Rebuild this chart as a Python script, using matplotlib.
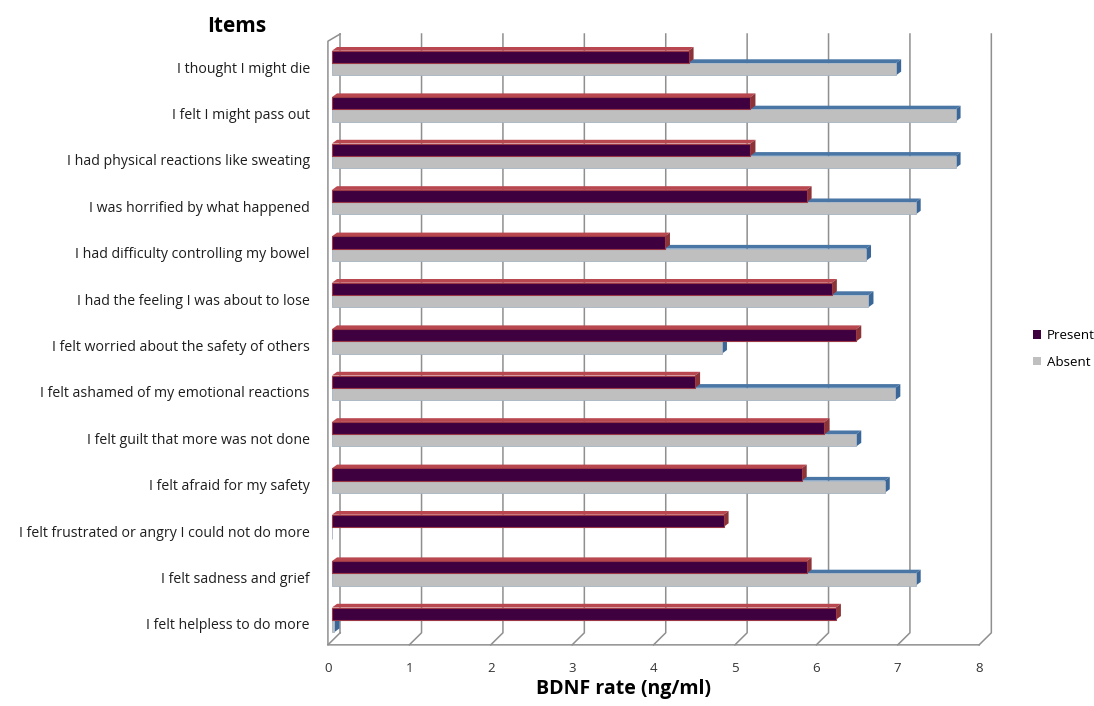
import matplotlib.pyplot as plt
from matplotlib.patches import Polygon, Patch

items = [
    "I thought I might die",
    "I felt I might pass out",
    "I had physical reactions like sweating",
    "I was horrified by what happened",
    "I had difficulty controlling my bowel",
    "I had the feeling I was about to lose",
    "I felt worried about the safety of others",
    "I felt ashamed of my emotional reactions",
    "I felt guilt that more was not done",
    "I felt afraid for my safety",
    "I felt frustrated or angry I could not do more",
    "I felt sadness and grief",
    "I felt helpless to do more",
]
present = [4.38, 5.14, 5.14, 5.83, 4.09, 6.14, 6.44, 4.46, 6.05, 5.77, 4.81, 5.83, 6.19]
absent = [6.93, 7.66, 7.66, 7.17, 6.56, 6.59, 4.79, 6.92, 6.44, 6.79, 0.0, 7.17, 0.03]
x_ticks = [0, 1, 2, 3, 4, 5, 6, 7, 8]

# colours: front face, top face, side face
present_cols = ("#3f0040", "#b8474f", "#8c3338")
absent_cols = ("#bfbfbf", "#4a76a6", "#3a6797")
grid_col = "#8f8f8f"

# fake 3d depth (data units) and wall offsets
dx, dy = 0.062, -0.08
back_dx, front_dx = 0.1, -0.05
y_top, y_floor_back, y_floor_front = -0.625, 12.28, 12.54
bar_h = 0.265

plt.rcParams['font.family'] = ['Open Sans', 'DejaVu Sans']

W, H = 1094, 706
fig = plt.figure(figsize=(W / 100, H / 100), dpi=100)
xlim = (-0.1, 8.2)
ylim = (12.6, -0.7)
px_x, px_y = 81.4, 46.4
left = 332 + xlim[0] * px_x
right = 332 + xlim[1] * px_x
top = 63 + ylim[1] * px_y
bottom = 63 + ylim[0] * px_y
ax = fig.add_axes([left / W, 1 - bottom / H, (right - left) / W, (bottom - top) / H])
ax.set_xlim(*xlim)
ax.set_ylim(*ylim)
for s in ax.spines.values():
    s.set_visible(False)

# walls and grid
for v in x_ticks[1:]:
    ax.plot([v + back_dx, v + back_dx, v + front_dx], [y_top, y_floor_back, y_floor_front],
            color=grid_col, lw=1.1, zorder=1, clip_on=False)
ax.plot([back_dx, back_dx], [y_top, y_floor_back], color=grid_col, lw=1.1, zorder=1, clip_on=False)
ax.plot([back_dx, front_dx, front_dx, 8 + front_dx], [y_top, -0.47, y_floor_front, y_floor_front],
        color=grid_col, lw=1.1, zorder=1, clip_on=False)
ax.plot([back_dx, front_dx], [y_floor_back, y_floor_front], color=grid_col, lw=1.1, zorder=1, clip_on=False)


def bar3d(y0, val, cols, z):
    if val <= 0:
        return
    front, topc, side = cols
    y1 = y0 + bar_h
    ax.add_patch(Polygon([(0, y0), (val, y0), (val + dx, y0 + dy), (dx, y0 + dy)],
                         closed=True, facecolor=topc, edgecolor='none', zorder=z))
    ax.add_patch(Polygon([(val, y0), (val, y1), (val + dx, y1 + dy), (val + dx, y0 + dy)],
                         closed=True, facecolor=side, edgecolor='none', zorder=z))


for i in range(len(items)):
    bar3d(i, absent[i], absent_cols, 2)
    bar3d(i - bar_h, present[i], present_cols, 4)

ys = list(range(len(items)))
ax.barh([y + bar_h / 2 for y in ys], absent, height=bar_h, color=absent_cols[0],
        edgecolor="#a7b3c3", linewidth=0.6, zorder=3)
ax.barh([y - bar_h / 2 for y in ys], present, height=bar_h, color=present_cols[0],
        edgecolor="#9a3846", linewidth=0.8, zorder=5)

ax.set_yticks([y + 0.09 for y in ys])
ax.set_yticklabels(items, fontsize=10.2, color="#1e1e1e")
ax.set_xticks([v + front_dx for v in x_ticks])
ax.set_xticklabels([str(v) for v in x_ticks], fontsize=9.5, color="#333333")
ax.tick_params(axis='y', length=0, pad=10)
ax.tick_params(axis='x', length=0, pad=10)

fig.text(237 / W, 1 - 26 / H, "Items", ha='center', va='center', fontsize=15, fontweight='bold')
fig.text(624 / W, 1 - 689 / H, "BDNF rate (ng/ml)", ha='center', va='center', fontsize=14, fontweight='bold')

handles = [Patch(facecolor=present_cols[0], label="Present"),
           Patch(facecolor=absent_cols[0], label="Absent")]
fig.legend(handles=handles, loc='center left', bbox_to_anchor=(1021 / W, 1 - 349 / H),
           frameon=False, fontsize=9.6, handlelength=0.6, handleheight=0.6, handletextpad=0.45,
           labelspacing=1.0)

fig.savefig("out.png", dpi=100)
